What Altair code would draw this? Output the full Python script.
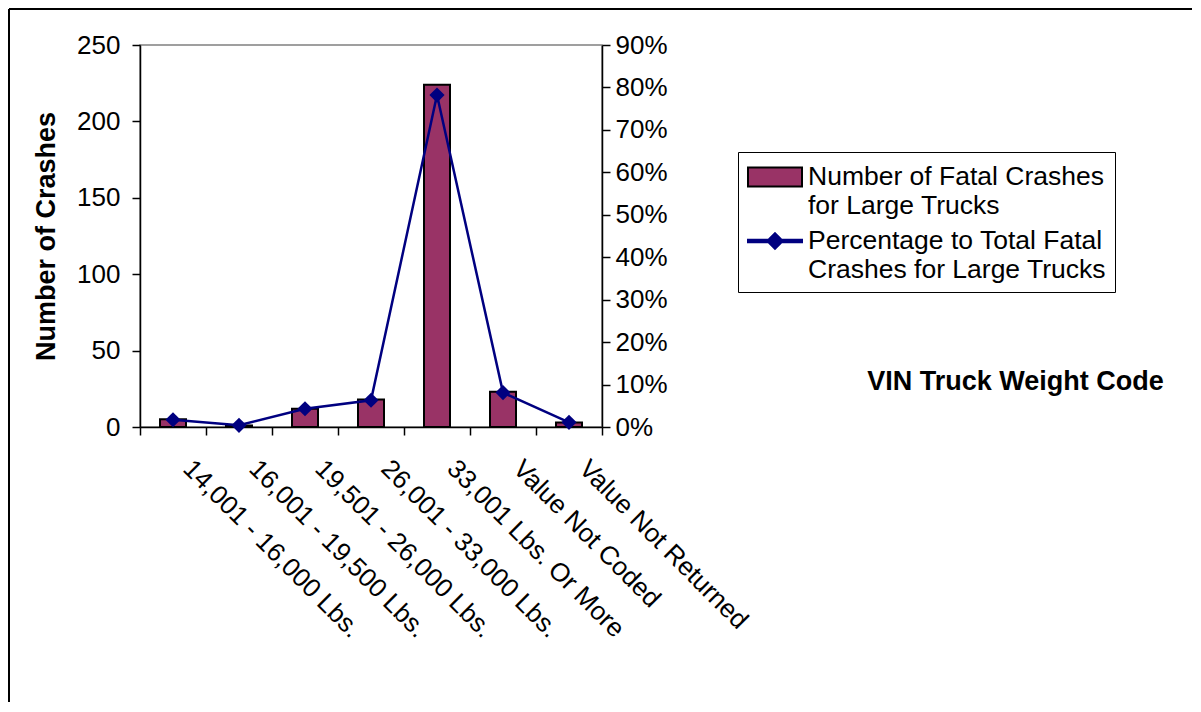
import altair as alt
import pandas as pd

categories = [
    "14,001 - 16,000 Lbs.",
    "16,001 - 19,500 Lbs.",
    "19,501 - 26,000 Lbs.",
    "26,001 - 33,000 Lbs.",
    "33,001 Lbs. Or More",
    "Value Not Coded",
    "Value Not Returned",
]
crash_counts = [5, 1, 12, 18, 224, 23, 3]
crash_pct = [0.017, 0.004, 0.043, 0.063, 0.782, 0.081, 0.011]

bar_series = "Number of Fatal Crashes for Large Trucks"
line_series = "Percentage to Total Fatal Crashes for Large Trucks"
series_names = [bar_series, line_series]

bar_df = pd.DataFrame({"cat": categories, "count": crash_counts, "series": bar_series})
line_df = pd.DataFrame({"cat": categories, "pct": crash_pct, "series": line_series})

FONT = "Liberation Sans"
MAROON = "#993366"
NAVY = "#000080"
FS = 26
TFS = 27

fill_scale = alt.Scale(domain=series_names, range=[MAROON, NAVY])
stroke_scale = alt.Scale(domain=series_names, range=["black", NAVY])
# symbol size 900 -> 15 px per path unit
shape_scale = alt.Scale(
    domain=series_names,
    range=[
        "M-1.8,-0.63H1.8V0.63H-1.8Z",
        "M-1.8,-0.083H1.8V0.083H-1.8Z M0,-0.52L0.52,0L0,0.52L-0.52,0Z",
    ],
)

legend = alt.Legend(
    title=None,
    orient="none",
    legendX=598,
    legendY=107,
    padding=9,
    strokeColor="black",
    fillColor="white",
    labelFont=FONT,
    labelFontSize=26.5,
    labelColor="black",
    labelLimit=600,
    labelOffset=17,
    symbolOffset=12,
    symbolSize=900,
    symbolStrokeWidth=2,
    symbolOpacity=1,
    rowPadding=6,
    labelExpr=(
        f"datum.label === '{bar_series}' ? ['Number of Fatal Crashes', 'for Large Trucks']"
        " : ['Percentage to Total Fatal', 'Crashes for Large Trucks']"
    ),
)

x_axis = alt.Axis(
    title="VIN Truck Weight Code",
    titleX=875,
    titleY=-46,
    titleAngle=0,
    titleAlign="center",
    titleBaseline="middle",
    titleFont=FONT,
    titleFontSize=TFS,
    titleFontWeight="bold",
    titleColor="black",
    labelAngle=45,
    labelAlign="left",
    labelBaseline="top",
    labelFont=FONT,
    labelFontSize=FS,
    labelColor="black",
    labelPadding=20,
    labelOffset=23,
    labelLimit=600,
    tickBand="extent",
    tickSize=8,
    tickColor="black",
    tickWidth=1.5,
    domainColor="black",
    domainWidth=1.5,
    grid=False,
)

x_enc = alt.X("cat:N", sort=categories, scale=alt.Scale(paddingInner=0, paddingOuter=0), axis=x_axis)

# legend carrier layer (no marks drawn: filtered to empty)
legend_layer = alt.Chart(bar_df).transform_filter("false").mark_point(filled=True).encode(
    shape=alt.Shape("series:N", scale=shape_scale, legend=legend),
    fill=alt.Fill("series:N", scale=fill_scale, legend=legend),
    stroke=alt.Stroke("series:N", scale=stroke_scale, legend=legend),
)

bars = alt.Chart(bar_df).mark_bar(size=26, strokeWidth=2).encode(
    x=x_enc,
    y=alt.Y(
        "count:Q",
        scale=alt.Scale(domain=[0, 250], nice=False),
        axis=alt.Axis(
            title="Number of Crashes",
            titleFont=FONT,
            titleFontSize=TFS,
            titleFontWeight="bold",
            titleColor="black",
            titlePadding=16,
            values=[0, 50, 100, 150, 200, 250],
            labelFont=FONT,
            labelFontSize=FS,
            labelColor="black",
            labelPadding=12,
            tickSize=8,
            tickColor="black",
            tickWidth=1.5,
            domainColor="black",
            domainWidth=1.5,
            grid=False,
        ),
    ),
    fill=alt.Fill("series:N", scale=fill_scale, legend=legend),
    stroke=alt.Stroke("series:N", scale=stroke_scale, legend=legend),
)

pct_y = alt.Y(
    "pct:Q",
    scale=alt.Scale(domain=[0, 0.9], nice=False),
    axis=alt.Axis(
        title=None,
        orient="right",
        format=".0%",
        values=[0, 0.1, 0.2, 0.3, 0.4, 0.5, 0.6, 0.7, 0.8, 0.9],
        labelFont=FONT,
        labelFontSize=FS,
        labelColor="black",
        labelPadding=5,
        tickSize=8,
        tickColor="black",
        tickWidth=1.5,
        domainColor="black",
        domainWidth=1.5,
        grid=False,
    ),
)

line = alt.Chart(line_df).mark_line(strokeWidth=2.5).encode(
    x=alt.X("cat:N", sort=categories),
    y=pct_y,
    stroke=alt.Stroke("series:N", scale=stroke_scale, legend=legend),
)

points = alt.Chart(line_df).mark_point(
    shape="diamond", size=230, filled=True, fill=NAVY, opacity=1
).encode(
    x=alt.X("cat:N", sort=categories),
    y=alt.Y("pct:Q"),
)

frame_df = pd.DataFrame({"f": [0]})
frame_top = alt.Chart(frame_df).mark_rule(stroke="black", strokeWidth=2).encode(
    x=alt.value(-131), x2=alt.value(1060), y=alt.value(-36)
)
frame_left = alt.Chart(frame_df).mark_rule(stroke="black", strokeWidth=2).encode(
    x=alt.value(-131), y=alt.value(-36), y2=alt.value(700)
)

pct_layer = alt.layer(line, points)

chart = (
    alt.layer(frame_top, frame_left, legend_layer, bars, pct_layer)
    .resolve_scale(y="independent")
    .properties(
        width=462,
        height=382,
        autosize=alt.AutoSizeParams(type="none"),
        padding={"left": 132, "top": 37, "right": 590, "bottom": 275},
    )
    .configure_view(stroke="#808080", strokeWidth=1.5)
)

chart.save("out.html", embed_options={"renderer": "svg", "actions": False})
